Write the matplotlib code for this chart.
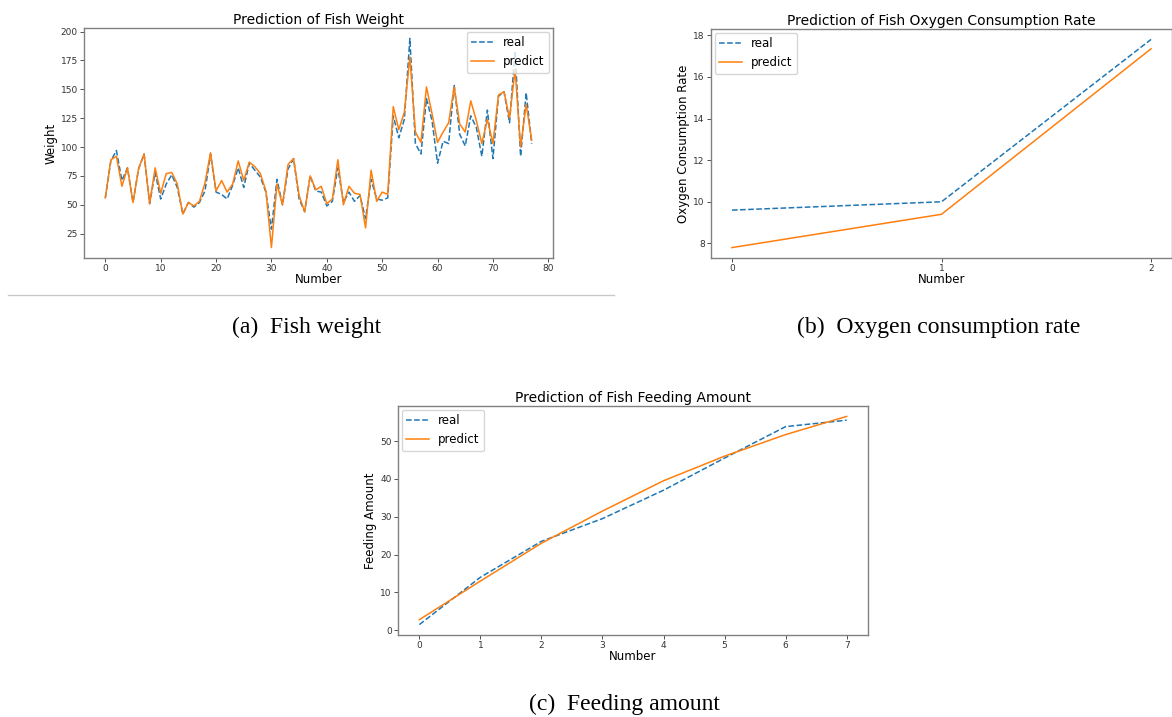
import matplotlib.pyplot as plt

# fish weight, 78 samples
weight_real = [56, 88, 97, 71, 82, 52, 81, 94, 51, 78,
               55, 68, 76, 65, 42, 52, 48, 52, 62, 94,
               61, 59, 55, 67, 82, 65, 86, 80, 74, 61,
               29, 72, 50, 81, 90, 55, 44, 75, 62, 61,
               49, 53, 82, 52, 61, 53, 58, 38, 72, 55,
               54, 56, 127, 108, 124, 194, 103, 94, 142, 123,
               86, 105, 103, 154, 111, 101, 127, 117, 92, 132,
               90, 144, 148, 121, 183, 92, 147, 103]
weight_pred = [56, 89, 92, 66, 82, 52, 81, 94, 51, 82,
               60, 77, 78, 68, 42, 52, 49, 53, 69, 95,
               62, 71, 61, 68, 88, 71, 87, 83, 77, 62,
               13, 68, 50, 85, 90, 58, 44, 75, 63, 66,
               51, 55, 89, 50, 66, 60, 59, 30, 80, 53,
               61, 59, 135, 115, 130, 178, 113, 104, 152, 129,
               104, 113, 121, 152, 120, 113, 140, 123, 103, 124,
               103, 145, 148, 125, 167, 100, 137, 106]

oxy_real = [9.6, 10.0, 17.8]
oxy_pred = [7.8, 9.4, 17.35]

feed_real = [1.5, 14.0, 23.5, 29.5, 37.0, 45.5, 53.8, 55.5]
feed_pred = [2.8, 13.0, 23.0, 31.5, 39.5, 46.0, 51.7, 56.5]

BLUE = "#1f77b4"
ORANGE = "#ff7f0e"
W, H = 1172, 717

fig = plt.figure(figsize=(W / 100, H / 100), dpi=100)


def box(left, top, right, bottom):
    return [left / W, 1 - bottom / H, (right - left) / W, (bottom - top) / H]


def panel(rect, real, pred, title, ylabel, loc):
    ax = fig.add_axes(rect)
    x = list(range(len(real)))
    ax.plot(x, real, "--", color=BLUE, lw=1.1, label="real")
    ax.plot(x, pred, "-", color=ORANGE, lw=1.1, label="predict")
    ax.set_title(title, fontsize=10, pad=3)
    ax.set_xlabel("Number", fontsize=8.5, labelpad=0)
    ax.set_ylabel(ylabel, fontsize=8.5, labelpad=2)
    ax.tick_params(labelsize=6.5, length=3, width=0.6, colors="#333333", pad=1.5)
    for s in ax.spines.values():
        s.set_color("#808080")
        s.set_linewidth(1.0)
    ax.legend(loc=loc, fontsize=8.5, borderaxespad=0.3, handlelength=1.9)
    return ax


ax1 = panel(box(84, 28, 553, 258), weight_real, weight_pred,
            "Prediction of Fish Weight", "Weight", "upper right")
ax1.set_xticks(range(0, 81, 10))
ax1.set_yticks(range(25, 201, 25))

ax2 = panel(box(711, 29, 1172, 258), oxy_real, oxy_pred,
            "Prediction of Fish Oxygen Consumption Rate",
            "Oxygen Consumption Rate", "upper left")
ax2.set_xticks([0, 1, 2])
ax2.set_yticks([8, 10, 12, 14, 16, 18])

ax3 = panel(box(398, 406, 868, 635), feed_real, feed_pred,
            "Prediction of Fish Feeding Amount", "Feeding Amount", "upper left")
ax3.set_xticks(range(8))

# separator line under panel (a)
fig.add_artist(plt.Line2D([8 / W, 614 / W], [1 - 295 / H, 1 - 295 / H],
                          color="#c8c8c8", lw=1.0))

cap = dict(fontsize=17, family="Liberation Serif", ha="center", va="center")
fig.text(307 / W, 1 - 327 / H, "(a)  Fish weight", **cap)
fig.text(939 / W, 1 - 327 / H, "(b)  Oxygen consumption rate", **cap)
fig.text(624 / W, 1 - 704 / H, "(c)  Feeding amount", **cap)

fig.savefig("out.png", dpi=100)
